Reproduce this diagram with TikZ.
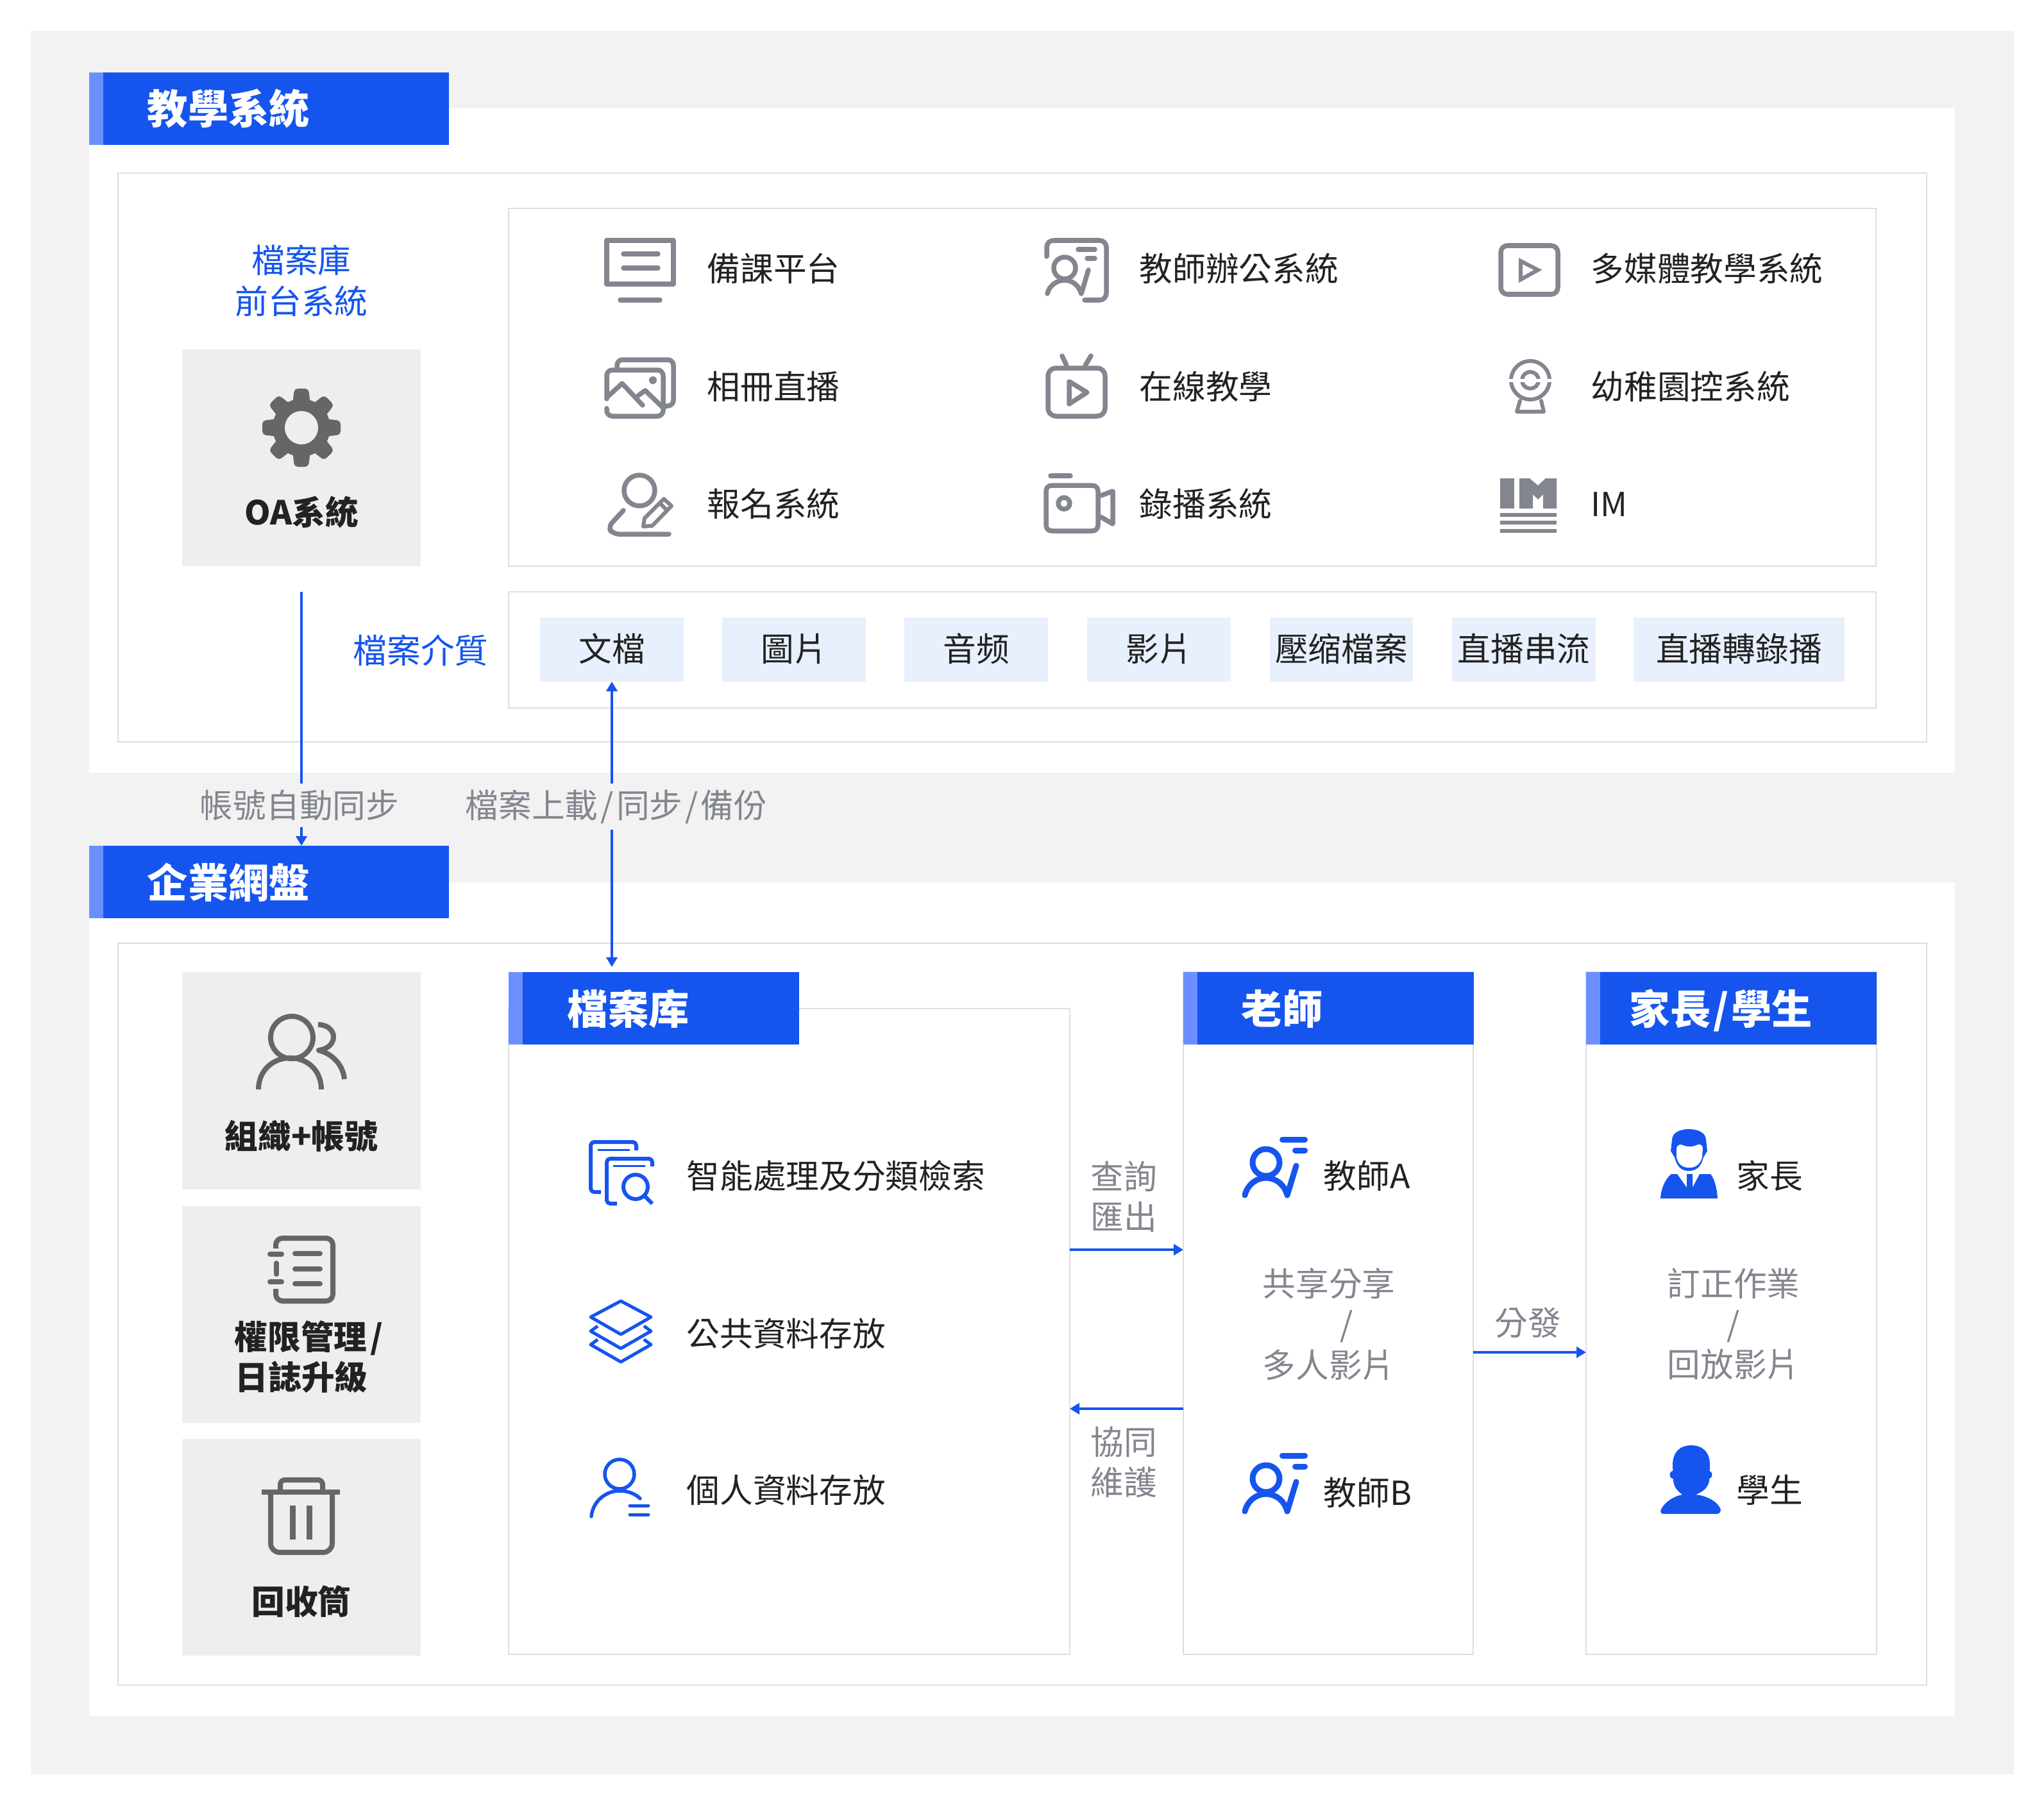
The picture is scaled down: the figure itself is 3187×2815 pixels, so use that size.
\documentclass[tikz,border=0pt]{standalone}
\usepackage{fontspec}
\setmainfont{Noto Sans CJK TC}
\usetikzlibrary{arrows.meta}
\definecolor{bggrey}{HTML}{F2F2F2}
\definecolor{cardgrey}{HTML}{EEEEEE}
\definecolor{rulegrey}{HTML}{DEDEDE}
\definecolor{iconink}{HTML}{666666}
\definecolor{linegrey}{HTML}{83868F}
\definecolor{sblue}{HTML}{1555EE}
\definecolor{sstripe}{HTML}{6C8FFF}
\definecolor{mediablue}{HTML}{E8F0FD}
\definecolor{inkdark}{HTML}{222222}
\tikzset{
  boxw/.style={minimum width=#1*0.01cm},
  boxh/.style={minimum height=#1*0.01cm},
  framebox/.style={draw=rulegrey,line width=0.02cm,fill=white,anchor=north west,inner sep=0,outer sep=0},
  cardbox/.style={fill=cardgrey,anchor=north west,inner sep=0,outer sep=0},
  hdrbox/.style={fill=sblue,anchor=north west,inner sep=0,outer sep=0},
  mediabox/.style={fill=mediablue,inner sep=0,outer sep=0,font=\fontsize{14.7}{18}\selectfont,text=inkdark,boxh=100},
  itemlbl/.style={font=\fontsize{14.7}{18}\selectfont,text=inkdark,anchor=base west,inner sep=0},
  cardlbl/.style={font=\bfseries\fontsize{14.7}{18}\selectfont,text=inkdark,align=center,inner sep=0},
  hdrlbl/.style={font=\bfseries\fontsize{18}{18}\selectfont,text=white,anchor=base west,inner sep=0},
  flowlbl/.style={font=\fontsize{14.7}{18}\selectfont,text=linegrey,align=center,inner sep=0},
  bluelbl/.style={font=\fontsize{14.7}{18}\selectfont,text=sblue,align=center,inner sep=0},
  flow/.style={draw=sblue,line width=0.04cm,-{Triangle[length=1.5mm,width=1.7mm]}},
  flowboth/.style={draw=sblue,line width=0.04cm,{Triangle[length=1.5mm,width=1.7mm]}-{Triangle[length=1.5mm,width=1.7mm]}},
  gline/.style={draw=linegrey,line width=0.075cm,line cap=round,line join=round},
  cline/.style={draw=iconink,line width=0.08cm,line join=round},
  bline/.style={draw=sblue,line width=0.06cm,line join=round},
}
\begin{document}
\begin{tikzpicture}[x=0.01cm,y=-0.01cm]
  \useasboundingbox (0,0) rectangle (3187,2815);
  \fill[white] (0,0) rectangle (3187,2815);
  \fill[bggrey] (48,48) rectangle (3140,2767);

  % panels
  \fill[white] (139,169) rectangle (3048,1205);
  \fill[white] (139,1376) rectangle (3048,2676);
  \node[framebox,boxw=2820,boxh=887] (teachframe) at (184,270) {};
  \node[framebox,boxw=2820,boxh=1157] (diskframe) at (184,1471) {};
  \node[framebox,boxw=2132,boxh=558] (iconframe) at (793,325) {};
  \node[framebox,boxw=2132,boxh=181] (mediaframe) at (793,923) {};
  \node[framebox,boxw=875,boxh=1007] (filebox) at (793,1573) {};
  \node[framebox,boxw=452,boxh=1064] (teacherbox) at (1845,1516) {};
  \node[framebox,boxw=453,boxh=1064] (parentbox) at (2473,1516) {};

  % grey cards
  \foreach \nm/\y/\h in {oa/545/338,org/1516/339,perm/1881/338,bin/2244/338}{
    \node[cardbox,boxw=372,boxh=\h] (card\nm) at (284,\y) {};
  }

  % header bars: name, left, top, width, text x, text
  \foreach \nm/\x/\y/\w/\tx/\txt in {%
    teach/139/113/561/229/教學系統,
    disk/139/1319/561/229/企業網盤,
    file/793/1516/453/884/檔案库,
    teacher/1845/1516/453/1935/老師,
    parent/2473/1516/453/2540/{家長\kern0.06em/\kern0.06em學生}}{
      \node[hdrbox,boxw=\w,boxh=113] (hdr\nm) at (\x,\y) {};
      \fill[sstripe] (\x,\y) rectangle (\x+22,\y+113);
      \node[hdrlbl] (hdrlbl\nm) at (\tx,\y+81) {\txt};
  }

  % media chips
  \foreach \nm/\x/\w/\txt in {%
    doc/954/224/文檔,
    pic/1238/224/圖片,
    audio/1522/224/音频,
    video/1807/224/影片,
    zip/2091.5/223/壓缩檔案,
    live/2376/224/直播串流,
    rec/2711.5/329/直播轉錄播}{
      \node[mediabox,boxw=\w,text depth=0.07cm] (media\nm) at (\x,1013) {\txt};
  }

  % connectors
  \coordinate (syncstart) at (470,923);
  \coordinate (qry) at (0,1949);
  \coordinate (coop) at (0,2197);
  \coordinate (dist) at (0,2109);
  \draw[flow] (syncstart) -- (hdrdisk.north -| syncstart);
  \draw[flowboth,shorten >=0.08cm] (mediadoc.south) -- (hdrfile.north -| mediadoc.south);
  \draw[flow] (filebox.east |- qry) -- (teacherbox.west |- qry);
  \draw[flow] (teacherbox.west |- coop) -- (filebox.east |- coop);
  \draw[flow] (teacherbox.east |- dist) -- (parentbox.west |- dist);

  % flow labels
  \node[flowlbl,fill=bggrey,inner sep=0.1cm] (lblsync) at (467,1256) {帳號自動同步};
  \node[flowlbl,fill=bggrey,inner sep=0.1cm] (lblup) at (961,1258) {檔案上載\kern0.08em/\kern0.08em同步\kern0.08em/\kern0.08em備份};
  \foreach \nm/\x/\y/\txt in {%
    qry/1752/1866/{查詢\\匯出},
    coop/1752/2280/{協同\\維護},
    dist/2382/2063/分發,
    share/2072/2065/{共享分享\\\hspace*{1.06em}/\\多人影片},
    fix/2703/2065/{訂正作業\\/\\回放影片}}{
      \node[flowlbl] (lbl\nm) at (\x,\y) {\txt};
  }
  \node[bluelbl] (lblfront) at (470,438) {檔案庫\\前台系統};
  \node[bluelbl,font=\fontsize{15}{18}\selectfont] (lblmedia) at (656,1014) {檔案介質};

  % item labels: name, x, y, text
  \foreach \nm/\x/\y/\txt in {%
    prep/1102/421/備課平台,
    album/1102/604/相冊直播,
    signup/1102/787/報名系統,
    office/1776/421/教師辦公系統,
    online/1776/604/在線教學,
    record/1776/787/錄播系統,
    media/2480/421/多媒體教學系統,
    kinder/2480/604/幼稚園控系統,
    im/2480/787/IM,
    search/1070/1835/智能處理及分類檢索,
    public/1070/2081/公共資料存放,
    own/1070/2325/個人資料存放,
    ta/2063/1835/教師A,
    tb/2063/2329/教師B,
    par/2707/1835/家長,
    stu/2707/2325/學生}{
      \node[itemlbl] (lbl\nm) at (\x,\y+18) {\txt};
  }

  % card labels
  \node[cardlbl] (lbloa) at (470,799) {OA系統};
  \node[cardlbl] (lblorg) at (470,1772) {組織+帳號};
  \node[cardlbl] (lblperm) at (470,2116) {\hspace*{0.45em}權限管理\kern0.1em/\\日誌升級};
  \node[cardlbl] (lblbin) at (470,2498) {回收筒};

  % gear
  \foreach \a in {0,45,...,315}{
    \fill[iconink,rounded corners=1.5pt,rotate around={\a:(470,667)}] (455,640) -- (459,606) -- (481,606) -- (485,640) -- cycle;
  }
  \fill[iconink] (470,667) circle (45);
  \fill[cardgrey] (470,667) circle (26);

  % group
  \draw[cline] (455,1618) circle (33);
  \draw[cline] (403,1699) .. controls (403,1670) and (425,1650) .. (452,1650) .. controls (480,1650) and (501,1670) .. (501,1699);
  \draw[cline] (496,1598) .. controls (512,1598) and (520,1608) .. (520,1617) .. controls (520,1627) and (512,1636) .. (497,1638) .. controls (520,1644) and (535,1662) .. (537,1683);

  % notebook
  \draw[cline,rounded corners=3pt] (430,1947) -- (430,1931) -- (519,1931) -- (519,2029) -- (430,2029) -- (430,2010);
  \draw[cline,line cap=round] (431,1970) -- (431,1987);
  \foreach \y in {1956,1999}{\draw[cline,line cap=round] (421,\y) -- (439,\y);}
  \foreach \y in {1955,1979,2002}{\draw[cline,line cap=round] (460,\y) -- (499,\y);}

  % bin
  \draw[cline] (408,2327) -- (530,2327);
  \draw[cline,rounded corners=2pt] (437,2327) -- (437,2308) -- (503,2308) -- (503,2327);
  \draw[cline,rounded corners=4pt] (422,2327) -- (422,2421) -- (518,2421) -- (518,2327);
  \fill[iconink] (452,2348) rectangle (461,2401);
  \fill[iconink] (478,2348) rectangle (487,2401);

  % monitor
  \draw[gline] (946,375) rectangle (1050,443);
  \draw[gline] (972,396) -- (1026,396);
  \draw[gline] (972,418) -- (1026,418);
  \draw[gline] (967,468) -- (1029,468);

  % album
  \draw[gline,rounded corners=2.5pt] (946,622) -- (946,577) -- (1034,577) -- (1034,649) -- (946,649) -- (946,637);
  \draw[gline,rounded corners=2.5pt] (962,577) -- (962,561) -- (1050,561) -- (1050,633) -- (1036,633);
  \draw[gline] (946,620) -- (970,598) -- (1002,632);
  \draw[gline] (995,617) -- (1006,609) -- (1035,637);
  \fill[linegrey] (1018,593) circle (6);

  % pen and user
  \draw[gline] (997,765) circle (24);
  \draw[gline,rounded corners=2.5pt] (972,796) -- (948,822) -- (956,833) -- (1043,833);
  \draw[gline,line width=0.06cm] (1005,808) -- (1035,778) -- (1047,789) -- (1017,820) -- (1003,821) -- cycle;
  \draw[gline,line width=0.06cm] (1029,785) -- (1040,796);

  % lecturer frame
  \draw[gline,rounded corners=3pt] (1632,400) -- (1632,375) -- (1725,375) -- (1725,468) -- (1691,468);
  \draw[gline] (1681,389) -- (1707,389);
  \draw[gline] (1695,403) -- (1707,403);
  \draw[gline] (1660,418) circle (17);
  \draw[gline] (1633,458) .. controls (1636,445) and (1648,437) .. (1660,437) .. controls (1672,437) and (1682,445) .. (1686,458) -- (1697,421);

  % tv
  \draw[gline,rounded corners=3.5pt] (1634,574) rectangle (1723,649);
  \draw[gline] (1656,555) -- (1663,570);
  \draw[gline] (1701,555) -- (1692,570);
  \draw[gline] (1667,595) -- (1695,612) -- (1667,630) -- cycle;

  % camera
  \draw[gline,rounded corners=2.5pt] (1631,757) rectangle (1712,828);
  \draw[gline] (1638,742) -- (1669,742);
  \draw[gline] (1659,785) circle (9);
  \draw[gline] (1716,773) -- (1735,766) -- (1735,817) -- (1716,806);

  % player
  \draw[gline,rounded corners=3pt] (2340,383) rectangle (2429,459);
  \draw[gline,line width=0.06cm,line join=miter] (2371,407) -- (2398,421) -- (2371,436) -- cycle;

  % webcam
  \draw[gline,line width=0.06cm] (2386,593) circle (30);
  \draw[gline,line width=0.06cm] (2386,593) circle (13);
  \draw[white,line width=0.05cm] (2350,593.5) -- (2422,593.5);
  \draw[gline,line width=0.06cm] (2370,625) -- (2365,642) -- (2407,642) -- (2403,625);

  % im mark
  \fill[linegrey] (2339,746) rectangle (2361,793);
  \fill[linegrey] (2369,746) -- (2385,746) -- (2398,757) -- (2410,746) -- (2427,746) -- (2427,793) -- (2406,793) -- (2406,771) -- (2398,779) -- (2390,771) -- (2390,793) -- (2369,793) -- cycle;
  \foreach \y in {800,812,825}{\fill[linegrey] (2339,\y) rectangle (2427,\y+6);}

  % files and lens
  \draw[bline,rounded corners=1.5pt] (937,1859) -- (921,1859) -- (921,1781) -- (992,1781) -- (992,1794);
  \draw[bline,line width=0.03cm] (932,1793) -- (982,1793);
  \draw[bline,rounded corners=1.5pt] (962,1877) -- (946,1877) -- (946,1807) -- (1017,1807) -- (1017,1819);
  \draw[bline,line width=0.03cm] (956,1818) -- (1006,1818);
  \draw[bline] (991,1851) circle (19);
  \draw[bline] (1006,1866) -- (1017,1877);

  % layers
  \draw[bline,line width=0.05cm] (968,2029) -- (1015,2054) -- (968,2081) -- (921,2054) -- cycle;
  \foreach \dy in {0,21}{
    \draw[bline,line width=0.05cm] (932,2068+\dy) -- (921,2076+\dy) -- (968,2103+\dy) -- (1015,2076+\dy) -- (1004,2068+\dy);
  }

  % file owner
  \draw[bline,line width=0.055cm] (966,2299) circle (23);
  \draw[bline,line width=0.055cm,line cap=round] (922,2365) .. controls (924,2342) and (944,2325) .. (966,2325) .. controls (978,2325) and (990,2329) .. (998,2337);
  \draw[bline,line width=0.05cm,line cap=round] (982,2348) -- (1011,2348);
  \draw[bline,line width=0.05cm,line cap=round] (982,2362) -- (1011,2362);

  % teacher marks
  \foreach \dy in {0,493}{
    \draw[bline,line width=0.09cm,line cap=round] (1974,1813+\dy) circle (21);
    \draw[bline,line width=0.09cm,line cap=round] (1941,1864+\dy) .. controls (1945,1848+\dy) and (1958,1837+\dy) .. (1974,1837+\dy) .. controls (1990,1837+\dy) and (2003,1848+\dy) .. (2007,1864+\dy) -- (2021,1818+\dy);
    \draw[bline,line width=0.09cm,line cap=round] (1999.5,1777+\dy) -- (2034.5,1777+\dy);
    \draw[bline,line width=0.09cm,line cap=round] (2019.5,1794+\dy) -- (2034.5,1794+\dy);
  }

  % parent
  \fill[sblue] (2607,1778) .. controls (2607,1766) and (2620,1761) .. (2633,1761) .. controls (2647,1761) and (2660,1766) .. (2660,1778) -- (2662,1795) -- (2656,1805) .. controls (2652,1820) and (2645,1826) .. (2633,1826) .. controls (2622,1826) and (2615,1820) .. (2611,1805) -- (2605,1795) -- cycle;
  \fill[white] (2614,1790) .. controls (2616,1785) and (2620,1784) .. (2624,1786) .. controls (2631,1789) and (2640,1789) .. (2647,1785) .. controls (2651,1784) and (2654,1786) .. (2655,1790) -- (2654,1805) .. controls (2650,1817) and (2643,1821) .. (2634,1821) .. controls (2624,1821) and (2617,1817) .. (2614,1805) -- cycle;
  \fill[sblue] (2589,1869) .. controls (2590,1852) and (2597,1838) .. (2606,1831) -- (2615,1831) -- (2630,1852) -- (2630,1831) -- (2639,1831) -- (2639,1852) -- (2650,1831) -- (2667,1831) .. controls (2673,1838) and (2677,1852) .. (2678,1869) -- cycle;
  \fill[sblue] (2630,1852) -- (2639,1852) -- (2635,1860) -- cycle;

  % student
  \fill[sblue] (2608,2285) .. controls (2608,2262) and (2622,2254) .. (2637,2254) .. controls (2652,2254) and (2666,2262) .. (2666,2285) -- (2665,2310) .. controls (2662,2322) and (2655,2326) .. (2644,2331) .. controls (2665,2333) and (2681,2345) .. (2683,2355) .. controls (2683,2358) and (2681,2361) .. (2678,2361) -- (2594,2361) .. controls (2590,2361) and (2588,2358) .. (2590,2354) .. controls (2595,2343) and (2610,2333) .. (2623,2331) .. controls (2617,2326) and (2611,2322) .. (2609,2310) -- cycle;
  \fill[sblue] (2610,2300) circle (6.5);
  \fill[sblue] (2663,2300) circle (6.5);
\end{tikzpicture}
\end{document}
